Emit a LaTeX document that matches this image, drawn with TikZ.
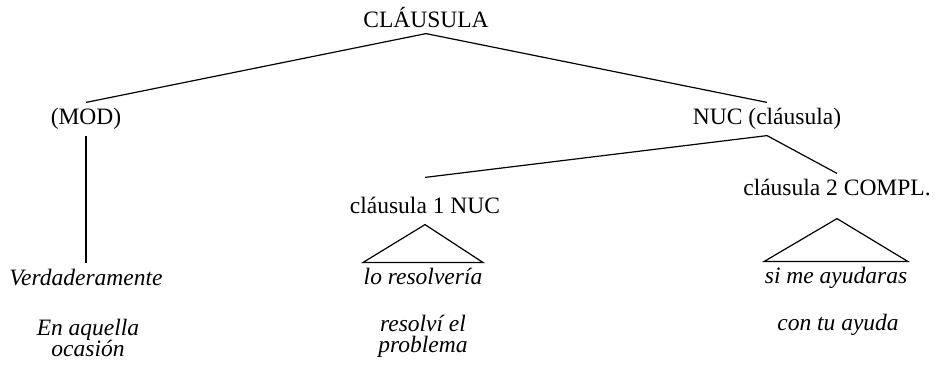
\documentclass[tikz,border=0pt]{standalone}
\usepackage{fontspec}
\setmainfont{Liberation Serif}
\usepackage{tikz}

\newcommand{\treefont}{\fontsize{11.75pt}{10.5pt}\selectfont}
\newcommand{\glossfont}{\treefont\itshape\lineskiplimit=-20pt\relax}

\begin{document}
\begin{tikzpicture}[x = 0.5pt, y = -0.5pt, line width = 0.6pt,
								cat/.style = {anchor = base, inner xsep = 0pt, 
								inner ysep = 3pt, text height = 0.75em, 
								text depth = 0.25em, font = \treefont},
								leaf/.style = {cat, font = \treefont\itshape},
								gloss/.style = {anchor = base, align = center, 
								font = \glossfont}]
				\useasboundingbox (0,0) rectangle (941,365);

				\node [cat] (root) at (426,27) {CLÁUSULA};
				\node [cat] (mod) at (86,124) {(MOD)};
				\node [cat] (nuc) at (767,124) {NUC (cláusula)};
				\node [cat] (cl_1) at (425,213) {cláusula 1 NUC};
				\node [cat] (cl_2) at (837,195) {cláusula 2 COMPL.};

				\node [leaf] (leaf_1) at (86,285) {Verdaderamente};
				\node [leaf] (leaf_2) at (423,284) {lo resolvería};
				\node [leaf] (leaf_3) at (836,283) {si me ayudaras};

				% the base of a two-line gloss is its last line
				\node [gloss] (gl_1) at (88,356) {En aquella\\ocasión};
				\node [gloss] (gl_2) at (423,352) {resolví el\\problema};
				\node [gloss] (gl_3) at (838,330) {con tu ayuda};

				\draw ([yshift = 2.5pt]root.south) -- (mod.north);
				\draw ([yshift = 2.5pt]root.south) -- (nuc.north);
				\draw (mod.south) -- (mod.south |- leaf_1.north);
				\draw (nuc.south) -- ([yshift = 7pt]cl_1.north);
				\draw (nuc.south) -- (cl_2.north);

				\draw (cl_1.south) -- (leaf_2.north west) -- (leaf_2.north east) -- cycle;
				\draw ([yshift = -6pt]cl_2.south) -- (leaf_3.north west) -- (leaf_3.north east) -- cycle;
\end{tikzpicture}
\end{document}
